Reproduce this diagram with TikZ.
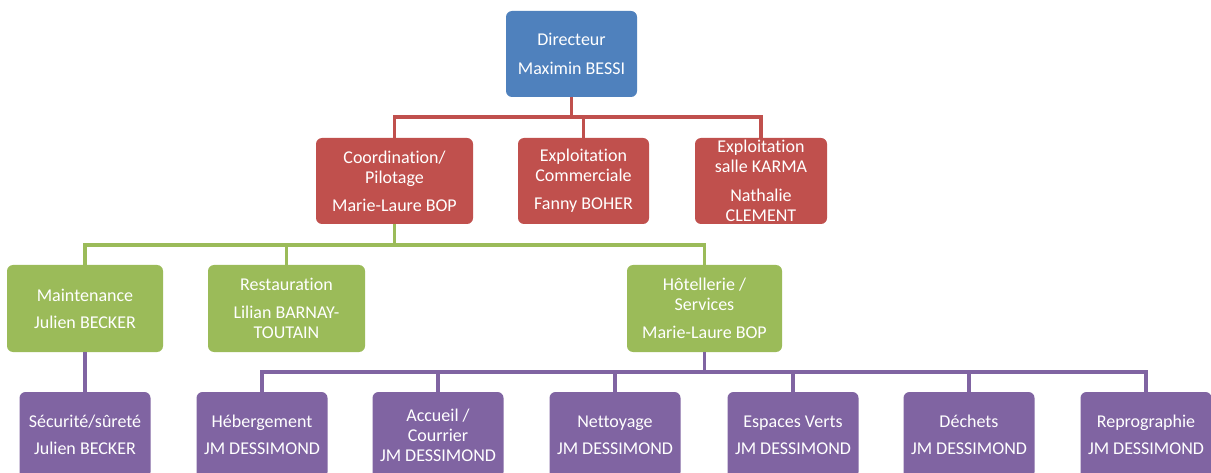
\documentclass[tikz,border=0pt]{standalone}
\usepackage{fontspec}
\setmainfont{Carlito}[Ligatures=NoCommon]
\definecolor{cblue}{HTML}{4F81BD}
\definecolor{cred}{HTML}{C0504D}
\definecolor{cgreen}{HTML}{9BBB59}
\definecolor{cpurple}{HTML}{8064A2}
\begin{document}
\begin{tikzpicture}[x=1pt,y=-1pt,
  box/.style={rounded corners=6pt, inner xsep=2pt, inner ysep=0pt, align=center,
    text=white, font=\fontsize{18}{20}\selectfont, minimum height=86pt},
  bluebox/.style={box, fill=cblue},
  redbox/.style={box, fill=cred},
  greenbox/.style={box, fill=cgreen, minimum height=87pt},
  purplebox/.style={box, fill=cpurple, minimum width=131pt},
  redline/.style={draw=cred, line width=3.6pt},
  greenline/.style={draw=cgreen, line width=3.6pt},
  purpleline/.style={draw=cpurple, line width=3.6pt}
]
\useasboundingbox (0,0) rectangle (1211,473);
\clip (0,0) rectangle (1211,473);
\fill[white] (0,0) rectangle (1211,473);

% level 0
\node[bluebox, minimum width=131pt] (dir) at (571.5,54) {Directeur\\[9pt]Maximin BESSI};

% level 1
\node[redbox, minimum width=157pt] (coord) at (394.5,181) {Coordination/\\Pilotage\\[8pt]Marie-Laure BOP};
\node[redbox, minimum width=131pt] (comm) at (583.5,181) {Exploitation\\Commerciale\\[8pt]Fanny BOHER};
\node[redbox, minimum width=132pt] (karma) at (761,181) {Exploitation\\salle KARMA\\[9pt]Nathalie\\CLEMENT};

% level 2
\node[greenbox, minimum width=156pt] (maint) at (85,308.5) {Maintenance\\[7pt]Julien BECKER};
\node[greenbox, minimum width=157pt] (resto) at (286.5,308.5) {Restauration\\[8pt]Lilian BARNAY-\\TOUTAIN};
\node[greenbox, minimum width=155pt] (hotel) at (704.5,308.5) {Hôtellerie /\\Services\\[8pt]Marie-Laure BOP};

% level 3
\node[purplebox] (secu) at (85,435) {Sécurité/sûreté\\[7pt]Julien BECKER};
\node[purplebox] (heb) at (262,435) {Hébergement\\[7pt]JM DESSIMOND};
\node[purplebox] (acc) at (438,435) {Accueil /\\Courrier\\JM DESSIMOND};
\node[purplebox] (net) at (615,435) {Nettoyage\\[7pt]JM DESSIMOND};
\node[purplebox] (esp) at (793,435) {Espaces Verts\\[7pt]JM DESSIMOND};
\node[purplebox] (dech) at (969,435) {Déchets\\[7pt]JM DESSIMOND};
\node[purplebox] (repro) at (1146,435) {Reprographie\\[7pt]JM DESSIMOND};

% red connectors
\coordinate (rbus) at (dir.south |- 0,117);
\draw[redline] (dir.south) -- (rbus);
\draw[redline] (coord.north) |- (rbus);
\draw[redline] (karma.north) |- (rbus);
\draw[redline] (comm.north) -- (comm.north |- rbus);

% green connectors
\coordinate (gbus) at (coord.south |- 0,245);
\draw[greenline] (coord.south) -- (gbus);
\draw[greenline] (maint.north) |- (gbus);
\draw[greenline] (hotel.north) |- (gbus);
\draw[greenline] (resto.north) -- (resto.north |- gbus);

% purple connectors
\draw[purpleline] (maint.south) -- (secu.north);
\coordinate (pbus) at (hotel.south |- 0,372);
\draw[purpleline] (hotel.south) -- (pbus);
\draw[purpleline] (heb.north) |- (pbus);
\draw[purpleline] (repro.north) |- (pbus);
\draw[purpleline] (acc.north) -- (acc.north |- pbus);
\draw[purpleline] (net.north) -- (net.north |- pbus);
\draw[purpleline] (esp.north) -- (esp.north |- pbus);
\draw[purpleline] (dech.north) -- (dech.north |- pbus);
\end{tikzpicture}
\end{document}
